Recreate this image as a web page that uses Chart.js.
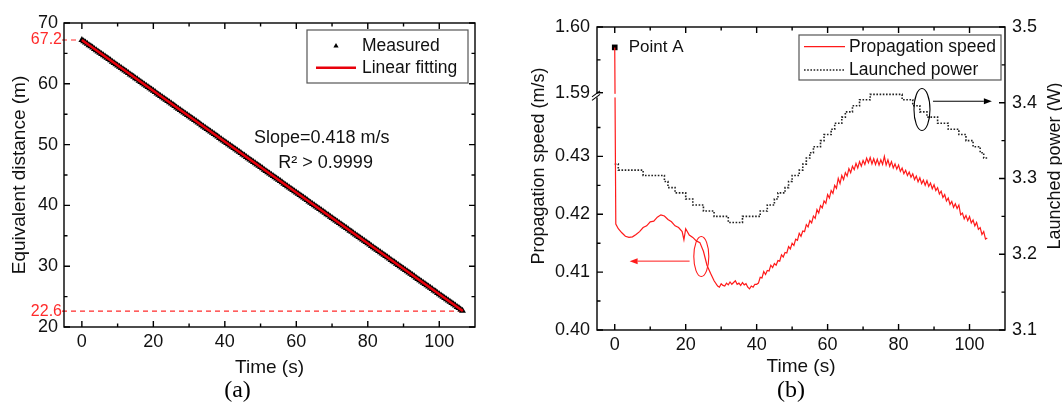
<!DOCTYPE html>
<html>
<head>
<meta charset="utf-8">
<script src="https://cdn.jsdelivr.net/npm/chart.js@4.4.0/dist/chart.umd.min.js"></script>
<style>
  html, body { margin: 0; padding: 0; background: #fff; }
  #wrap { position: relative; width: 1062px; height: 403px; overflow: hidden; }
  .panel { position: absolute; top: 0; }
  #pa { left: 0; }
  #pb { left: 520px; }
</style>
</head>
<body>
<div id="wrap">
  <div class="panel" id="pa"><canvas id="chartA" width="520" height="403"></canvas></div>
  <div class="panel" id="pb"><canvas id="chartB" width="542" height="403"></canvas></div>
</div>
<script>
// ---------- panel (a): equivalent distance vs time (sampled every 0.5 s) ----------
var measTime = [0, 0.5, 1, 1.5, 2, 2.5, 3, 3.5, 4, 4.5, 5, 5.5, 6, 6.5, 7, 7.5, 8, 8.5, 9, 9.5,
  10, 10.5, 11, 11.5, 12, 12.5, 13, 13.5, 14, 14.5, 15, 15.5, 16, 16.5, 17, 17.5, 18, 18.5, 19, 19.5,
  20, 20.5, 21, 21.5, 22, 22.5, 23, 23.5, 24, 24.5, 25, 25.5, 26, 26.5, 27, 27.5, 28, 28.5, 29, 29.5,
  30, 30.5, 31, 31.5, 32, 32.5, 33, 33.5, 34, 34.5, 35, 35.5, 36, 36.5, 37, 37.5, 38, 38.5, 39, 39.5,
  40, 40.5, 41, 41.5, 42, 42.5, 43, 43.5, 44, 44.5, 45, 45.5, 46, 46.5, 47, 47.5, 48, 48.5, 49, 49.5,
  50, 50.5, 51, 51.5, 52, 52.5, 53, 53.5, 54, 54.5, 55, 55.5, 56, 56.5, 57, 57.5, 58, 58.5, 59, 59.5,
  60, 60.5, 61, 61.5, 62, 62.5, 63, 63.5, 64, 64.5, 65, 65.5, 66, 66.5, 67, 67.5, 68, 68.5, 69, 69.5,
  70, 70.5, 71, 71.5, 72, 72.5, 73, 73.5, 74, 74.5, 75, 75.5, 76, 76.5, 77, 77.5, 78, 78.5, 79, 79.5,
  80, 80.5, 81, 81.5, 82, 82.5, 83, 83.5, 84, 84.5, 85, 85.5, 86, 86.5, 87, 87.5, 88, 88.5, 89, 89.5,
  90, 90.5, 91, 91.5, 92, 92.5, 93, 93.5, 94, 94.5, 95, 95.5, 96, 96.5, 97, 97.5, 98, 98.5, 99, 99.5,
  100, 100.5, 101, 101.5, 102, 102.5, 103, 103.5, 104, 104.5, 105, 105.5, 106, 106.5];
var measDist = [67.20, 66.99, 66.78, 66.58, 66.36, 66.16, 65.95, 65.73, 65.53, 65.32, 65.11, 64.91, 64.69, 64.48, 64.27, 64.07, 63.86, 63.64, 63.44, 63.23,
  63.02, 62.82, 62.60, 62.39, 62.18, 61.98, 61.77, 61.55, 61.35, 61.14, 60.93, 60.73, 60.51, 60.30, 60.09, 59.89, 59.68, 59.46, 59.26, 59.05,
  58.84, 58.64, 58.42, 58.21, 58.00, 57.80, 57.59, 57.37, 57.17, 56.96, 56.75, 56.55, 56.33, 56.12, 55.91, 55.71, 55.50, 55.28, 55.08, 54.87,
  54.66, 54.46, 54.24, 54.03, 53.82, 53.62, 53.41, 53.19, 52.99, 52.78, 52.57, 52.37, 52.15, 51.94, 51.73, 51.53, 51.32, 51.10, 50.90, 50.69,
  50.48, 50.28, 50.06, 49.85, 49.64, 49.44, 49.23, 49.01, 48.81, 48.60, 48.39, 48.19, 47.97, 47.76, 47.55, 47.35, 47.14, 46.92, 46.72, 46.51,
  46.30, 46.10, 45.88, 45.67, 45.46, 45.26, 45.05, 44.83, 44.63, 44.42, 44.21, 44.01, 43.79, 43.58, 43.37, 43.17, 42.96, 42.74, 42.54, 42.33,
  42.12, 41.92, 41.70, 41.49, 41.28, 41.08, 40.87, 40.65, 40.45, 40.24, 40.03, 39.83, 39.61, 39.40, 39.19, 38.99, 38.78, 38.56, 38.36, 38.15,
  37.94, 37.74, 37.52, 37.31, 37.10, 36.90, 36.69, 36.47, 36.27, 36.06, 35.85, 35.65, 35.43, 35.22, 35.01, 34.81, 34.60, 34.38, 34.18, 33.97,
  33.76, 33.56, 33.34, 33.13, 32.92, 32.72, 32.51, 32.29, 32.09, 31.88, 31.67, 31.47, 31.25, 31.04, 30.83, 30.63, 30.42, 30.20, 30.00, 29.79,
  29.58, 29.38, 29.16, 28.95, 28.74, 28.54, 28.33, 28.11, 27.91, 27.70, 27.49, 27.29, 27.07, 26.86, 26.65, 26.45, 26.24, 26.02, 25.82, 25.61,
  25.40, 25.20, 24.98, 24.77, 24.56, 24.36, 24.15, 23.93, 23.73, 23.52, 23.31, 23.11, 22.89, 22.68];
var fitTime = [0, 106.6];
var fitDist = [67.2, 22.64];
var startDist = 67.2, endDist = 22.6, endTime = 106.6;
var slopeText = 'Slope=0.418 m/s';
var r2Text = 'R\u00B2 > 0.9999';
var timeTicks = [0, 20, 40, 60, 80, 100];
var timeMinor = [10, 30, 50, 70, 90];
var distTicks = [20, 30, 40, 50, 60, 70];
var distMinor = [25, 35, 45, 55, 65];

// ---------- panel (b): propagation speed and launched power ----------
var speedTime = [0, 0.3, 1, 2, 3, 4, 5, 6, 7, 8, 9, 10, 11, 12, 13, 14, 15, 16, 17, 18, 19, 19.5,
  20, 21, 22, 23, 24, 25, 26, 27, 28, 29,
  29.5, 30, 30.5, 31, 31.5, 32, 32.5, 33, 33.5, 34, 34.5, 35, 35.5, 36, 36.5, 37, 37.5, 38, 38.5, 39, 39.5,
  40, 40.5, 41, 41.5, 42, 42.5, 43, 43.5, 44, 44.5, 45, 45.5, 46, 46.5, 47, 47.5, 48, 48.5, 49, 49.5,
  50, 50.5, 51, 51.5, 52, 52.5, 53, 53.5, 54, 54.5, 55, 55.5, 56, 56.5, 57, 57.5, 58, 58.5, 59, 59.5,
  60, 60.5, 61, 61.5, 62, 62.5, 63, 63.5, 64, 64.5, 65, 65.5, 66, 66.5, 67, 67.5, 68, 68.5, 69, 69.5,
  70, 70.5, 71, 71.5, 72, 72.5, 73, 73.5, 74, 74.5, 75, 75.5, 76, 76.5, 77, 77.5, 78, 78.5, 79, 79.5,
  80, 80.5, 81, 81.5, 82, 82.5, 83, 83.5, 84, 84.5, 85, 85.5, 86, 86.5, 87, 87.5, 88, 88.5, 89, 89.5,
  90, 90.5, 91, 91.5, 92, 92.5, 93, 93.5, 94, 94.5, 95, 95.5, 96, 96.5, 97, 97.5, 98, 98.5, 99, 99.5,
  100, 100.5, 101, 101.5, 102, 102.5, 103, 103.5, 104, 104.5, 105];
var speedVal = [1.5969, 0.4183, 0.4175, 0.4168, 0.4162, 0.4160, 0.4161, 0.4165, 0.4170, 0.4177, 0.4180,
  0.4187, 0.4188, 0.4195, 0.4199, 0.4197, 0.4191, 0.4187, 0.4180, 0.4177, 0.4170, 0.4156,
  0.4175, 0.4164, 0.4160, 0.4154, 0.4151, 0.4136, 0.4112, 0.4098, 0.4085, 0.4076,
  0.4074, 0.4080, 0.4077, 0.4076, 0.4081, 0.4078, 0.4083, 0.4079, 0.4082, 0.4085, 0.4079, 0.4081, 0.4077, 0.4082, 0.4078, 0.4080, 0.4074, 0.4071, 0.4076, 0.4074, 0.4079,
  0.4079, 0.4081, 0.4091, 0.4090, 0.4101, 0.4096, 0.4103, 0.4102, 0.4112, 0.4108, 0.4115, 0.4112, 0.4120, 0.4119, 0.4130, 0.4126, 0.4134, 0.4133, 0.4144, 0.4140,
  0.4150, 0.4146, 0.4157, 0.4155, 0.4167, 0.4162, 0.4171, 0.4170, 0.4182, 0.4178, 0.4189, 0.4185, 0.4197, 0.4193, 0.4208, 0.4202, 0.4215, 0.4211, 0.4223, 0.4219,
  0.4234, 0.4228, 0.4241, 0.4236, 0.4250, 0.4245, 0.4262, 0.4253, 0.4267, 0.4260, 0.4272, 0.4266, 0.4279, 0.4272, 0.4283, 0.4277, 0.4288, 0.4280, 0.4291, 0.4283,
  0.4293, 0.4286, 0.4297, 0.4289, 0.4298, 0.4287, 0.4296, 0.4286, 0.4295, 0.4285, 0.4294, 0.4286, 0.4300, 0.4285, 0.4294, 0.4283, 0.4291, 0.4280, 0.4287, 0.4278,
  0.4285, 0.4274, 0.4280, 0.4270, 0.4276, 0.4267, 0.4273, 0.4264, 0.4270, 0.4260, 0.4266, 0.4256, 0.4263, 0.4253, 0.4259, 0.4250, 0.4258, 0.4248, 0.4254, 0.4244,
  0.4251, 0.4241, 0.4246, 0.4235, 0.4240, 0.4229, 0.4234, 0.4223, 0.4228, 0.4217, 0.4222, 0.4212, 0.4218, 0.4210, 0.4216, 0.4199, 0.4202, 0.4192, 0.4198, 0.4189,
  0.4196, 0.4185, 0.4190, 0.4180, 0.4186, 0.4174, 0.4177, 0.4165, 0.4170, 0.4157, 0.4159];
var powerTime = [0, 1, 2, 3, 4, 5, 6, 7, 8, 9,
  10, 11, 12, 13, 14, 15, 16, 17, 18, 19,
  20, 21, 22, 23, 24, 25, 26, 27, 28, 29,
  30, 31, 32, 33, 34, 35, 36, 37, 38, 39,
  40, 41, 42, 43, 44, 45, 46, 47, 48, 49,
  50, 51, 52, 53, 54, 55, 56, 57, 58, 59,
  60, 61, 62, 63, 64, 65, 66, 67, 68, 69,
  70, 71, 72, 73, 74, 75, 76, 77, 78, 79,
  80, 81, 82, 83, 84, 85, 86, 87, 88, 89,
  90, 91, 92, 93, 94, 95, 96, 97, 98, 99,
  100, 101, 102, 103, 104, 105];
var powerVal = [3.319, 3.311, 3.311, 3.311, 3.311, 3.311, 3.311, 3.311, 3.304, 3.304,
  3.304, 3.304, 3.304, 3.304, 3.296, 3.288, 3.288, 3.281, 3.281, 3.281,
  3.273, 3.273, 3.265, 3.265, 3.265, 3.257, 3.257, 3.257, 3.250, 3.250,
  3.250, 3.250, 3.242, 3.242, 3.242, 3.242, 3.250, 3.250, 3.250, 3.250,
  3.250, 3.257, 3.257, 3.265, 3.265, 3.273, 3.281, 3.281, 3.288, 3.296,
  3.304, 3.304, 3.311, 3.319, 3.327, 3.334, 3.342, 3.342, 3.350, 3.358,
  3.358, 3.365, 3.373, 3.373, 3.381, 3.388, 3.388, 3.396, 3.396, 3.404,
  3.404, 3.404, 3.411, 3.411, 3.411, 3.411, 3.411, 3.411, 3.411, 3.411,
  3.411, 3.404, 3.404, 3.404, 3.396, 3.396, 3.388, 3.388, 3.381, 3.381,
  3.381, 3.373, 3.373, 3.373, 3.365, 3.365, 3.365, 3.358, 3.358, 3.350,
  3.350, 3.342, 3.342, 3.334, 3.327, 3.327];
var pointA = [0, 1.5969];
var speedTicks = [0.40, 0.41, 0.42, 0.43, 1.59, 1.60];
var speedMinor = [0.405, 0.415, 0.425, 0.435, 1.595];
var powerTicks = [3.1, 3.2, 3.3, 3.4, 3.5];
var powerMinor = [3.15, 3.25, 3.35, 3.45];

var FONT = '"Liberation Sans", Arial, sans-serif';
var SERIF = '"Liberation Serif", "Times New Roman", serif';
Chart.defaults.font.family = FONT;
Chart.defaults.color = '#111';

// broken speed axis: the 1.59-1.60 segment sits right above 0.44
var SPEED_BREAK = 0.4405;
function speedToAxis(v) { return v < 1 ? v : 0.4410 + (v - 1.59) * 1.136; }

function pairs(xs, ys, f) {
  return xs.map(function (x, i) { return { x: x, y: f ? f(ys[i]) : ys[i] }; });
}
function fixedBox(size) {
  return function (axis) {
    if (axis.isHorizontal()) axis.height = size; else axis.width = size;
    axis.paddingTop = 0; axis.paddingBottom = 0; axis.paddingLeft = 0; axis.paddingRight = 0;
  };
}
function setTicks(vals) {
  return function (axis) { axis.ticks = vals.map(function (v) { return { value: v }; }); };
}

// box frame with inward major/minor ticks on every side
var frameTicks = {
  id: 'frameTicks',
  afterDatasetsDraw: function (chart, args, o) {
    var ctx = chart.ctx, a = chart.chartArea, sx = chart.scales.x;
    var big = 6, small = 3.5;
    ctx.save();
    ctx.strokeStyle = '#000';
    ctx.lineWidth = 1.4;
    ctx.setLineDash([]);
    ctx.strokeRect(a.left, a.top, a.right - a.left, a.bottom - a.top);
    ctx.beginPath();
    function xt(vals, len) {
      vals.forEach(function (v) {
        var p = sx.getPixelForValue(v);
        ctx.moveTo(p, a.bottom); ctx.lineTo(p, a.bottom - len);
        ctx.moveTo(p, a.top); ctx.lineTo(p, a.top + len);
      });
    }
    function yt(scale, vals, len, side) {
      vals.forEach(function (v) {
        var p = scale.getPixelForValue(v);
        if (side === 'left') { ctx.moveTo(a.left, p); ctx.lineTo(a.left + len, p); }
        else { ctx.moveTo(a.right, p); ctx.lineTo(a.right - len, p); }
      });
    }
    xt(o.xMajor, big); xt(o.xMinor, small);
    var l = chart.scales[o.leftId], r = chart.scales[o.rightId];
    yt(l, o.leftMajor, big, 'left'); yt(l, o.leftMinor, small, 'left');
    yt(r, o.rightMajor, big, 'right'); yt(r, o.rightMinor, small, 'right');
    ctx.stroke();
    ctx.restore();
  }
};

// framed legend like the original figure
var boxLegend = {
  id: 'boxLegend',
  afterDraw: function (chart, args, o) {
    var ctx = chart.ctx;
    ctx.save();
    ctx.fillStyle = '#fff';
    ctx.fillRect(o.left, o.top, o.width, o.height);
    ctx.strokeStyle = '#555';
    ctx.lineWidth = 1.2;
    ctx.setLineDash([]);
    ctx.strokeRect(o.left, o.top, o.width, o.height);
    ctx.font = o.fontSize + 'px ' + FONT;
    ctx.textBaseline = 'middle';
    ctx.textAlign = 'left';
    o.items.forEach(function (idx, i) {
      var ds = chart.data.datasets[idx];
      var y = o.top + o.rows[i];
      var x0 = o.left + o.sampleX, x1 = x0 + o.sampleW;
      ctx.save();
      if (ds.showLine === false) {
        ctx.fillStyle = ds.backgroundColor;
        Chart.helpers.drawPoint(ctx, { pointStyle: ds.pointStyle, radius: 3, borderWidth: 0 }, (x0 + x1) / 2, y);
      } else {
        ctx.strokeStyle = ds.borderColor;
        ctx.lineWidth = ds.borderWidth;
        ctx.setLineDash(ds.borderDash || []);
        ctx.beginPath(); ctx.moveTo(x0, y); ctx.lineTo(x1, y); ctx.stroke();
      }
      ctx.restore();
      ctx.fillStyle = '#111';
      ctx.fillText(ds.label, o.left + o.textX, y);
    });
    ctx.restore();
  }
};

var annotA = {
  id: 'annotA',
  beforeDatasetsDraw: function (chart) {
    var ctx = chart.ctx, sx = chart.scales.x, sy = chart.scales.y, a = chart.chartArea;
    var y1 = sy.getPixelForValue(startDist), y2 = sy.getPixelForValue(endDist);
    ctx.save();
    ctx.strokeStyle = '#ff2a2a';
    ctx.lineWidth = 1.2;
    ctx.setLineDash([5, 4]);
    ctx.beginPath();
    ctx.moveTo(a.left - 2, y1); ctx.lineTo(sx.getPixelForValue(0), y1);
    ctx.moveTo(a.left - 2, y2); ctx.lineTo(sx.getPixelForValue(endTime), y2);
    ctx.stroke();
    ctx.restore();
  },
  afterDraw: function (chart) {
    var ctx = chart.ctx, sx = chart.scales.x, sy = chart.scales.y, a = chart.chartArea;
    ctx.save();
    ctx.font = '16px ' + FONT;
    ctx.fillStyle = '#ff2a2a';
    ctx.textAlign = 'right';
    ctx.textBaseline = 'middle';
    ctx.fillText(startDist.toFixed(1), a.left - 2, sy.getPixelForValue(startDist));
    ctx.fillText(endDist.toFixed(1), a.left - 2, sy.getPixelForValue(endDist));
    ctx.font = '18px ' + FONT;
    ctx.fillStyle = '#111';
    ctx.textAlign = 'center';
    ctx.fillText(slopeText, sx.getPixelForValue(67.1), sy.getPixelForValue(51.1));
    ctx.fillText(r2Text, sx.getPixelForValue(68.2), sy.getPixelForValue(47.0));
    ctx.restore();
  }
};

function arrow(ctx, x0, y0, x1, y1, color) {
  var ang = Math.atan2(y1 - y0, x1 - x0), hl = 8, hw = 3;
  ctx.strokeStyle = color; ctx.fillStyle = color; ctx.lineWidth = 1;
  ctx.beginPath(); ctx.moveTo(x0, y0); ctx.lineTo(x1 - hl * Math.cos(ang), y1 - hl * Math.sin(ang)); ctx.stroke();
  ctx.beginPath();
  ctx.moveTo(x1, y1);
  ctx.lineTo(x1 - hl * Math.cos(ang) + hw * Math.sin(ang), y1 - hl * Math.sin(ang) - hw * Math.cos(ang));
  ctx.lineTo(x1 - hl * Math.cos(ang) - hw * Math.sin(ang), y1 - hl * Math.sin(ang) + hw * Math.cos(ang));
  ctx.closePath(); ctx.fill();
}

var annotB = {
  id: 'annotB',
  afterDraw: function (chart, args, o) {
    var ctx = chart.ctx, sx = chart.scales.x, sy = chart.scales.y, sp = chart.scales.y2, a = chart.chartArea;
    ctx.save();
    // axis break marks
    var yb = sy.getPixelForValue(SPEED_BREAK);
    ctx.fillStyle = '#fff';
    ctx.fillRect(a.left - 2, yb - 1.8, 26, 3.6);
    ctx.strokeStyle = '#000';
    ctx.lineWidth = 1.1;
    ctx.beginPath();
    [-1.8, 1.8].forEach(function (d) {
      ctx.moveTo(a.left - 5, yb + d + 3); ctx.lineTo(a.left + 3, yb + d - 3);
    });
    ctx.stroke();
    // Point A label
    ctx.font = '17px ' + FONT;
    ctx.fillStyle = '#111';
    ctx.textAlign = 'left';
    ctx.textBaseline = 'middle';
    ctx.fillText('Point A', sx.getPixelForValue(pointA[0]) + 14, sy.getPixelForValue(speedToAxis(pointA[1])));
    // red ellipse + arrow to left axis
    ctx.strokeStyle = '#ff1a1a'; ctx.lineWidth = 1.1;
    ctx.beginPath();
    ctx.ellipse(sx.getPixelForValue(24.4), sy.getPixelForValue(0.4127), 7.5, 20, 0, 0, Math.PI * 2);
    ctx.stroke();
    arrow(ctx, sx.getPixelForValue(21.1), sy.getPixelForValue(0.4119), sx.getPixelForValue(4.2), sy.getPixelForValue(0.4119), '#ff1a1a');
    // black ellipse + arrow to right axis
    ctx.strokeStyle = '#000'; ctx.lineWidth = 1.1;
    ctx.beginPath();
    ctx.ellipse(sx.getPixelForValue(86.6), sp.getPixelForValue(3.391), 8, 21, 0, 0, Math.PI * 2);
    ctx.stroke();
    arrow(ctx, sx.getPixelForValue(89.7), sp.getPixelForValue(3.402), sx.getPixelForValue(106.3), sp.getPixelForValue(3.402), '#000');
    // axis titles, both reading bottom to top
    ctx.font = '18px ' + FONT;
    ctx.fillStyle = '#111';
    ctx.textAlign = 'center';
    ctx.textBaseline = 'middle';
    [[19, o.leftTitle], [535, o.rightTitle]].forEach(function (t) {
      ctx.save();
      ctx.translate(t[0], o.titleY);
      ctx.rotate(-Math.PI / 2);
      ctx.fillText(t[1], 0, 0);
      ctx.restore();
    });
    ctx.restore();
  }
};

new Chart(document.getElementById('chartA'), {
  type: 'line',
  data: {
    datasets: [
      { label: 'Linear fitting', data: pairs(fitTime, fitDist), borderColor: '#e8000b', borderWidth: 2.6,
        pointRadius: 0, order: 0 },
      { label: 'Measured', data: pairs(measTime, measDist), showLine: false, pointStyle: 'triangle',
        pointRadius: 4, backgroundColor: '#000', borderColor: '#000', borderWidth: 0, order: 1 }
    ]
  },
  options: {
    responsive: false,
    animation: false,
    layout: { padding: { top: 23, right: 45, left: 0, bottom: 0 } },
    plugins: {
      legend: { display: false },
      tooltip: { enabled: false },
      title: { display: true, position: 'bottom', text: '(a)', color: '#000',
        font: { family: SERIF, size: 24, weight: 'normal', lineHeight: 1 }, padding: { top: 0, bottom: 0 } },
      frameTicks: { xMajor: timeTicks, xMinor: timeMinor, leftId: 'y', leftMajor: distTicks, leftMinor: distMinor,
        rightId: 'y', rightMajor: distTicks, rightMinor: distMinor },
      boxLegend: { left: 307, top: 30, width: 161, height: 53, rows: [16, 37.7], sampleX: 9, sampleW: 40,
        textX: 55, fontSize: 17.5, items: [1, 0] }
    },
    scales: {
      x: {
        type: 'linear', min: -5, max: 110,
        grid: { display: false, drawTicks: false }, border: { display: false },
        afterBuildTicks: setTicks(timeTicks), afterFit: fixedBox(52),
        ticks: { font: { size: 18 }, padding: 4, color: '#111', maxRotation: 0, autoSkip: false },
        title: { display: true, text: 'Time (s)', font: { size: 19 }, color: '#111', padding: { top: 0, bottom: 0 } }
      },
      y: {
        type: 'linear', min: 20, max: 70,
        grid: { display: false, drawTicks: false }, border: { display: false },
        afterBuildTicks: setTicks(distTicks), afterFit: fixedBox(64),
        ticks: { font: { size: 18 }, padding: 6, color: '#111', autoSkip: false },
        title: { display: true, text: 'Equivalent distance (m)', font: { size: 19 }, color: '#111', padding: { top: 8, bottom: 0 } }
      }
    }
  },
  plugins: [annotA, frameTicks, boxLegend]
});

new Chart(document.getElementById('chartB'), {
  type: 'line',
  data: {
    datasets: [
      { label: 'Propagation speed', data: pairs(speedTime, speedVal, speedToAxis), yAxisID: 'y',
        borderColor: '#ff1a1a', borderWidth: 1.2, pointRadius: 0, tension: 0 },
      { label: 'Launched power', data: pairs(powerTime, powerVal), yAxisID: 'y2',
        borderColor: '#222', borderWidth: 1.6, borderDash: [1.6, 1.6], pointRadius: 0, stepped: true },
      { label: 'Point A', data: [{ x: pointA[0], y: speedToAxis(pointA[1]) }], yAxisID: 'y', showLine: false,
        pointStyle: 'rect', pointRadius: 4, backgroundColor: '#000', borderWidth: 0 }
    ]
  },
  options: {
    responsive: false,
    animation: false,
    layout: { padding: { top: 27, right: 0, left: 0, bottom: 0 } },
    plugins: {
      legend: { display: false },
      tooltip: { enabled: false },
      title: { display: true, position: 'bottom', text: '(b)', color: '#000',
        font: { family: SERIF, size: 24, weight: 'normal', lineHeight: 1 }, padding: { top: 0, bottom: 0 } },
      frameTicks: { xMajor: timeTicks, xMinor: timeMinor,
        leftId: 'y', leftMajor: speedTicks.map(speedToAxis), leftMinor: speedMinor.map(speedToAxis),
        rightId: 'y2', rightMajor: powerTicks, rightMinor: powerMinor },
      boxLegend: { left: 279, top: 35, width: 202, height: 45, rows: [11.7, 35], sampleX: 5, sampleW: 41,
        textX: 50, fontSize: 17.5, items: [0, 1] },
      annotB: { leftTitle: 'Propagation speed (m/s)', rightTitle: 'Launched power (W)', titleY: 166 }
    },
    scales: {
      x: {
        type: 'linear', min: -5, max: 110,
        grid: { display: false, drawTicks: false }, border: { display: false },
        afterBuildTicks: setTicks(timeTicks), afterFit: fixedBox(49),
        ticks: { font: { size: 18 }, padding: 4, color: '#111', maxRotation: 0, autoSkip: false },
        title: { display: true, text: 'Time (s)', font: { size: 19 }, color: '#111', padding: { top: 0, bottom: 1 } }
      },
      y: {
        type: 'linear', position: 'left', min: 0.40, max: speedToAxis(1.60),
        grid: { display: false, drawTicks: false }, border: { display: false },
        afterBuildTicks: setTicks(speedTicks.map(speedToAxis)), afterFit: fixedBox(77),
        ticks: { font: { size: 18 }, padding: 7, color: '#111', autoSkip: false,
          callback: function (v, i) { return speedTicks[i].toFixed(2); } }
      },
      y2: {
        type: 'linear', position: 'right', min: 3.1, max: 3.5,
        grid: { display: false, drawTicks: false }, border: { display: false },
        afterBuildTicks: setTicks(powerTicks), afterFit: fixedBox(57),
        ticks: { font: { size: 18 }, padding: 7, color: '#111', autoSkip: false,
          callback: function (v) { return v.toFixed(1); } }
      }
    }
  },
  plugins: [frameTicks, boxLegend, annotB]
});
</script>
</body>
</html>
